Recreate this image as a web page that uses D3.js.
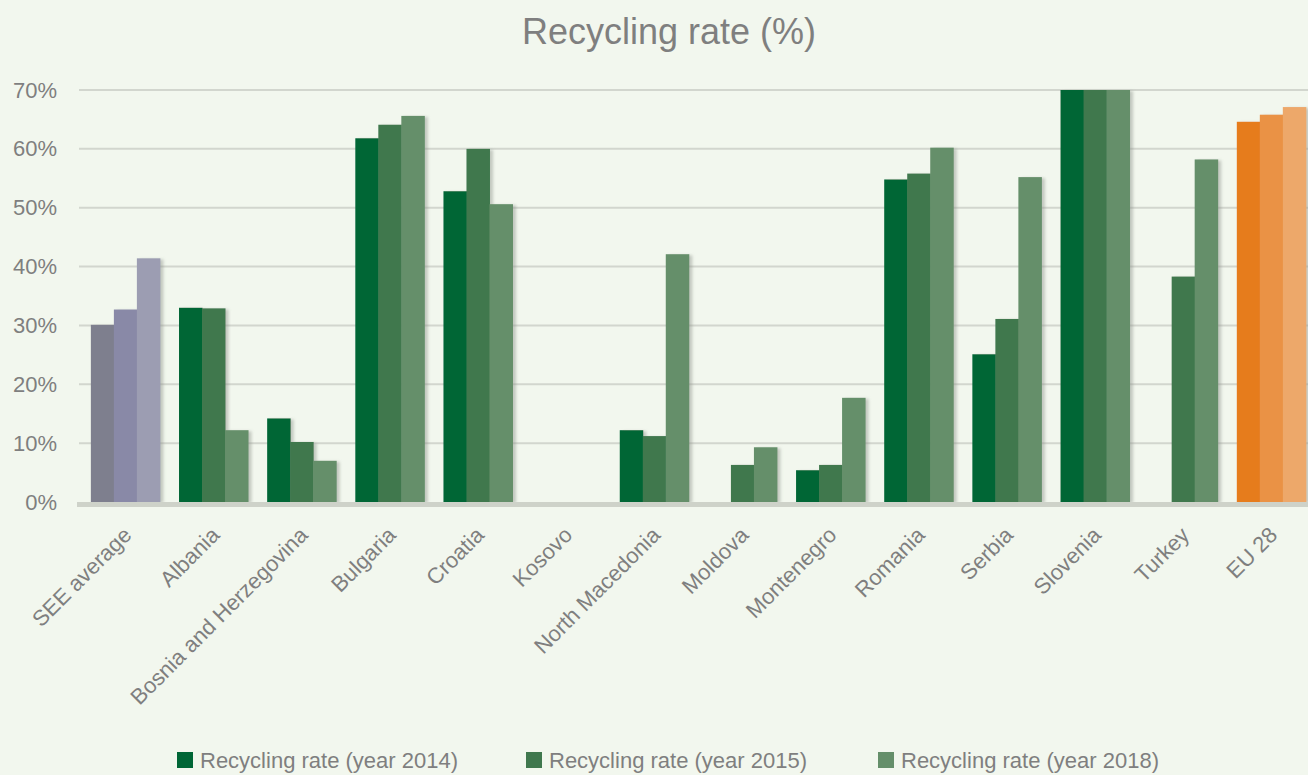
<!DOCTYPE html>
<html>
<head>
<meta charset="utf-8">
<script src="https://cdn.jsdelivr.net/npm/d3@7"></script>
<style>
  html, body { margin: 0; padding: 0; background: #F2F7EE; }
  svg { display: block; }
  text { font-family: "Liberation Sans", Arial, sans-serif; fill: #7F7F7F; }
</style>
</head>
<body>
<svg id="chart" width="1308" height="775"></svg>
<script>
// Recycling rate by country, three reporting years
const categories = ["SEE average", "Albania", "Bosnia and Herzegovina", "Bulgaria", "Croatia", "Kosovo",
  "North Macedonia", "Moldova", "Montenegro", "Romania", "Serbia", "Slovenia", "Turkey", "EU 28"];
const seriesNames = ["Recycling rate (year 2014)", "Recycling rate (year 2015)", "Recycling rate (year 2018)"];
const rate2014 = [30.1, 33.0, 14.2, 61.8, 52.8, null, 12.2, null, 5.4, 54.8, 25.1, 70.0, null, 64.6];
const rate2015 = [32.7, 32.9, 10.2, 64.1, 60.0, null, 11.2, 6.3, 6.3, 55.8, 31.1, 70.0, 38.3, 65.8];
const rate2018 = [41.4, 12.2, 7.0, 65.6, 50.6, null, 42.1, 9.3, 17.7, 60.2, 55.2, 70.0, 58.2, 67.1];
const yTicks = [0, 10, 20, 30, 40, 50, 60, 70];

// colour sets: regional average, countries, EU reference
const countryColors = ["#006636", "#40784E", "#658F6A"];
const averageColors = ["#7E7F8E", "#8989A7", "#9C9DB2"];
const euColors = ["#E67C1F", "#EA9244", "#EDA86B"];

const svg = d3.select("#chart");
const W = 1308;

const x = d3.scaleBand().domain(categories).range([81.3, 1315.4]).paddingInner(0.217).paddingOuter(0.1085);
const xs = d3.scaleBand().domain(d3.range(3)).range([0, x.bandwidth()]).padding(0);
const y = d3.scaleLinear().domain([0, 70]).range([502, 90]);

// soft shadow behind each bar
const defs = svg.append("defs");
const f = defs.append("filter").attr("id", "shadow").attr("x", "-20%").attr("y", "-5%").attr("width", "150%").attr("height", "115%");
f.append("feDropShadow").attr("dx", 3).attr("dy", 1).attr("stdDeviation", 1.5)
  .attr("flood-color", "#8A8F86").attr("flood-opacity", 0.45);

// title
svg.append("text").attr("x", 669).attr("y", 44).attr("text-anchor", "middle")
  .style("font-size", "36px").text("Recycling rate (%)");

// gridlines
svg.append("g").selectAll("line").data(yTicks.slice(1)).join("line")
  .attr("x1", 79).attr("x2", W)
  .attr("y1", d => y(d)).attr("y2", d => y(d))
  .attr("stroke", "#D2D6CE").attr("stroke-width", 2);

// y axis labels
const yAxis = d3.axisLeft(y).tickValues(yTicks).tickSize(0).tickPadding(22).tickFormat(d => d + "%");
const gy = svg.append("g").attr("transform", "translate(79,0)").call(yAxis);
gy.select(".domain").remove();
gy.selectAll("text").style("font-size", "22px").attr("fill", "#7F7F7F").attr("font-family", null);

// bars
const series = [rate2014, rate2015, rate2018];
const bars = [];
categories.forEach((c, i) => {
  series.forEach((vals, s) => {
    if (vals[i] == null) return;
    const pal = c === "SEE average" ? averageColors : (c === "EU 28" ? euColors : countryColors);
    bars.push({ cat: c, s, v: vals[i], color: pal[s] });
  });
});
svg.append("g").attr("filter", "url(#shadow)").selectAll("rect").data(bars).join("rect")
  .attr("x", d => x(d.cat) + xs(d.s))
  .attr("y", d => y(d.v))
  .attr("width", xs.bandwidth() + 0.5)
  .attr("height", d => y(0) - y(d.v))
  .attr("fill", d => d.color);

// baseline
svg.append("rect").attr("x", 77).attr("y", 502).attr("width", W - 77).attr("height", 5).attr("fill", "#CED2C9");

// category labels
const xAxis = d3.axisBottom(x).tickSize(0).tickPadding(0);
const gx = svg.append("g").call(xAxis);
gx.select(".domain").remove();
gx.selectAll(".tick").attr("transform", d => `translate(${x(d) + x.bandwidth() / 2 + 2},531)`);
gx.selectAll("text").attr("y", 0).attr("dy", "0.35em").attr("x", 0)
  .attr("text-anchor", "end").attr("transform", "rotate(-45)")
  .style("font-size", "22px").attr("fill", "#7F7F7F").attr("font-family", null);

// legend
const legendX = [177, 526, 878];
const lg = svg.append("g").selectAll("g").data(seriesNames).join("g")
  .attr("transform", (d, i) => `translate(${legendX[i]},752)`);
lg.append("rect").attr("width", 16).attr("height", 16).attr("fill", (d, i) => countryColors[i]);
lg.append("text").attr("x", 23).attr("y", 16).style("font-size", "22px").text(d => d);
</script>
</body>
</html>
